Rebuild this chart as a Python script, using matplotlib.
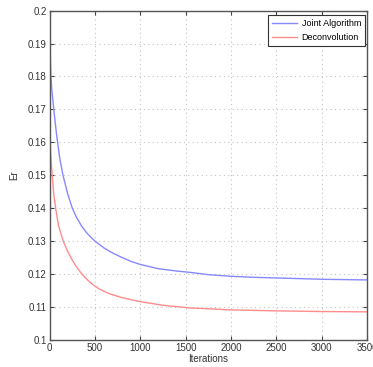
import matplotlib
matplotlib.use('Agg')
import matplotlib.pyplot as plt

# values
iters_joint = [0, 3, 14, 22, 30, 47, 65, 84, 115, 150, 200, 250, 300, 350, 400, 450,
               500, 600, 700, 800, 900, 1000, 1200, 1400, 1547, 1750, 2000, 2250, 2500,
               2750, 3000, 3250, 3500]
er_joint = [0.200, 0.190, 0.180, 0.1770, 0.1745, 0.1698, 0.1652, 0.1608, 0.1547, 0.1497,
            0.1443, 0.1400, 0.1370, 0.1347, 0.1328, 0.1313, 0.1300, 0.1279, 0.1263,
            0.1250, 0.1238, 0.1229, 0.1216, 0.1209, 0.1205, 0.1198, 0.1193, 0.1190,
            0.1188, 0.1186, 0.1184, 0.1183, 0.1182]

iters_deconv = [0, 2, 4, 7, 12, 20, 29, 45, 66, 100, 150, 200, 250, 300, 353, 400, 445,
                500, 550, 650, 800, 1000, 1250, 1547, 2000, 2500, 3000, 3500]
er_deconv = [0.190, 0.178, 0.170, 0.160, 0.1565, 0.1530, 0.150, 0.1445, 0.140, 0.1345,
             0.130, 0.1268, 0.1242, 0.1220, 0.1201, 0.1187, 0.1175, 0.1163, 0.1154,
             0.1141, 0.1128, 0.1116, 0.1105, 0.1097, 0.1091, 0.1088, 0.1086, 0.1085]

xticks = [0, 500, 1000, 1500, 2000, 2500, 3000, 3500]
yticks = [0.1, 0.11, 0.12, 0.13, 0.14, 0.15, 0.16, 0.17, 0.18, 0.19, 0.2]
ytick_labels = ['0.1', '0.11', '0.12', '0.13', '0.14', '0.15', '0.16', '0.17', '0.18', '0.19', '0.2']

plt.rcParams['font.family'] = ['Liberation Sans Narrow', 'Liberation Sans', 'DejaVu Sans']

fig = plt.figure(figsize=(3.73, 3.67), dpi=100)
ax = fig.add_axes([0.133, 0.074, 0.851, 0.897])

ax.plot(iters_joint, er_joint, color='#8888ff', lw=1, label='Joint Algorithm')
ax.plot(iters_deconv, er_deconv, color='#ff8c8c', lw=1, label='Deconvolution')

ax.set_xlim(0, 3500)
ax.set_ylim(0.1, 0.2)
ax.set_xticks(xticks)
ax.set_xticklabels([str(t) for t in xticks])
ax.set_yticks(yticks)
ax.set_yticklabels(ytick_labels)
ax.grid(True, linestyle=(0, (1, 3)), color='#c4c4c4', lw=0.8)
ax.tick_params(direction='in', top=True, right=True, labelsize=7, length=3,
               colors='#444444', labelcolor='#333333', pad=2)
for s in ax.spines.values():
    s.set_color('#555555')
    s.set_linewidth(1)

ax.set_xlabel('Iterations', fontsize=7, labelpad=1, color='#333333')
ax.set_ylabel('Er', fontsize=7, labelpad=6, color='#333333')

leg = ax.legend(loc='upper right', bbox_to_anchor=(0.994, 0.987), fontsize=6.5,
                fancybox=False, framealpha=1, edgecolor='#333333', handlelength=2.8,
                handletextpad=0.5, borderaxespad=0, labelspacing=0.55, borderpad=0.45)
leg.get_frame().set_linewidth(0.8)

plt.savefig('out.png', dpi=100)
plt.close()
